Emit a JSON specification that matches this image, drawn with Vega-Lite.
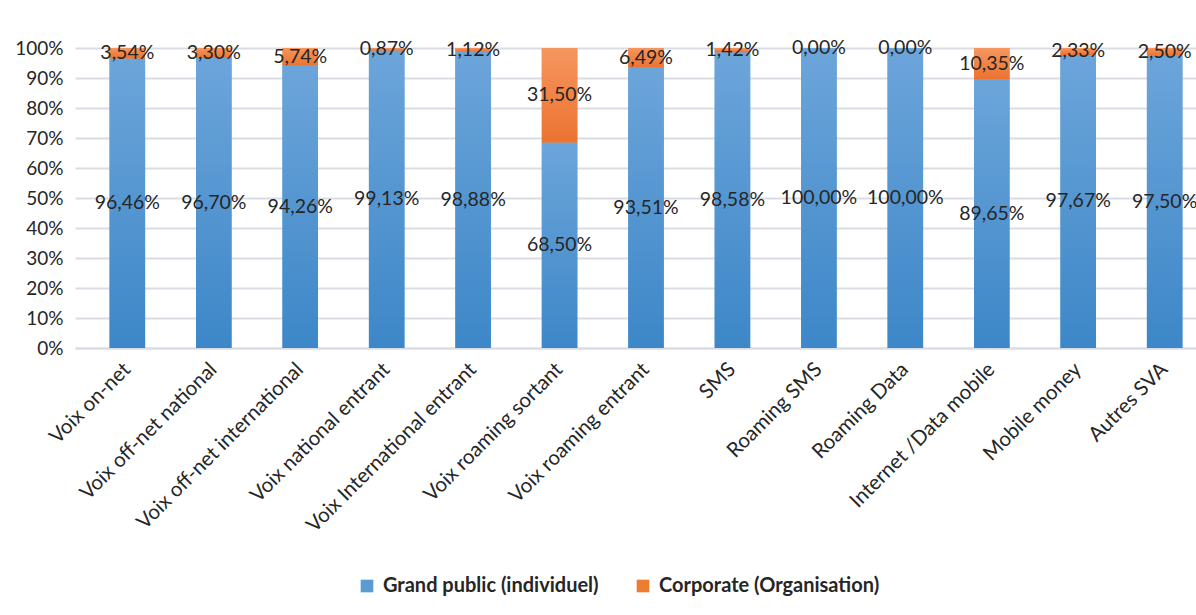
{
  "$schema": "https://vega.github.io/schema/vega-lite/v6.json",
  "autosize": {"type": "none"},
  "width": 1121,
  "height": 300,
  "padding": {"left": 75, "top": 48, "right": 0, "bottom": 267},
  "background": "white",
  "config": {
    "locale": {"number": {"decimal": ",", "thousands": " ", "grouping": [3], "currency": ["", " €"]}},
    "font": "Lato",
    "view": {"stroke": null},
    "axisY": {"values": [0, 0.1, 0.2, 0.3, 0.4, 0.5, 0.6, 0.7, 0.8, 0.9, 1], "format": ".0%", "title": null,
      "domain": false, "ticks": false, "labelFontSize": 19, "labelColor": "#262626", "labelPadding": 12,
      "gridColor": "#d9dde3", "gridWidth": 2, "labelOverlap": false}
  },
  "data": {"values": [
    {"category": "Voix on-net", "series": "Grand public (individuel)", "value": 0.9646},
    {"category": "Voix on-net", "series": "Corporate (Organisation)", "value": 0.0354},
    {"category": "Voix off-net national", "series": "Grand public (individuel)", "value": 0.9670},
    {"category": "Voix off-net national", "series": "Corporate (Organisation)", "value": 0.0330},
    {"category": "Voix off-net international", "series": "Grand public (individuel)", "value": 0.9426},
    {"category": "Voix off-net international", "series": "Corporate (Organisation)", "value": 0.0574},
    {"category": "Voix  national entrant", "series": "Grand public (individuel)", "value": 0.9913},
    {"category": "Voix  national entrant", "series": "Corporate (Organisation)", "value": 0.0087},
    {"category": "Voix International entrant", "series": "Grand public (individuel)", "value": 0.9888},
    {"category": "Voix International entrant", "series": "Corporate (Organisation)", "value": 0.0112},
    {"category": "Voix roaming sortant", "series": "Grand public (individuel)", "value": 0.6850},
    {"category": "Voix roaming sortant", "series": "Corporate (Organisation)", "value": 0.3150},
    {"category": "Voix roaming entrant", "series": "Grand public (individuel)", "value": 0.9351},
    {"category": "Voix roaming entrant", "series": "Corporate (Organisation)", "value": 0.0649},
    {"category": "SMS", "series": "Grand public (individuel)", "value": 0.9858},
    {"category": "SMS", "series": "Corporate (Organisation)", "value": 0.0142},
    {"category": "Roaming SMS", "series": "Grand public (individuel)", "value": 1.0},
    {"category": "Roaming SMS", "series": "Corporate (Organisation)", "value": 0.0},
    {"category": "Roaming Data", "series": "Grand public (individuel)", "value": 1.0},
    {"category": "Roaming Data", "series": "Corporate (Organisation)", "value": 0.0},
    {"category": "Internet /Data mobile", "series": "Grand public (individuel)", "value": 0.8965},
    {"category": "Internet /Data mobile", "series": "Corporate (Organisation)", "value": 0.1035},
    {"category": "Mobile money", "series": "Grand public (individuel)", "value": 0.9767},
    {"category": "Mobile money", "series": "Corporate (Organisation)", "value": 0.0233},
    {"category": "Autres SVA", "series": "Grand public (individuel)", "value": 0.9750},
    {"category": "Autres SVA", "series": "Corporate (Organisation)", "value": 0.0250}
  ]},
  "transform": [
    {"stack": "value", "groupby": ["category"], "sort": [{"field": "series", "order": "descending"}], "as": ["v0", "v1"]},
    {"calculate": "(datum.v0 + datum.v1) / 2", "as": "mid"}
  ],
  "encoding": {
    "x": {
      "field": "category", "type": "nominal", "sort": null, "title": null,
      "scale": {"range": [0, 1142], "paddingInner": 0.589, "paddingOuter": 0.4},
      "axis": {
        "labelAngle": -45, "labelAlign": "right", "labelBaseline": "middle",
        "labelFontSize": 20.5, "labelColor": "#262626", "labelPadding": 18,
        "ticks": false, "domainColor": "#d9dde3", "domainWidth": 2,
        "labelOverlap": false, "labelLimit": 400
      }
    },
    "y": {"field": "v0", "type": "quantitative", "scale": {"domain": [0, 1], "nice": false}},
    "y2": {"field": "v1"}
  },
  "layer": [
    {
      "mark": {"type": "bar"},
      "encoding": {
        "color": {"field": "series", "type": "nominal",
          "scale": {"domain": ["Grand public (individuel)", "Corporate (Organisation)"], "range": ["#5b9bd5", "#ed7d31"]},
          "legend": {"orient": "none", "legendX": 282, "legendY": 528, "direction": "horizontal", "title": null,
            "symbolType": "square", "symbolSize": 160, "symbolStrokeWidth": 0, "labelFontSize": 20, "labelFontWeight": "bold",
            "labelColor": "#262626", "columnPadding": 34, "labelOffset": 6, "labelLimit": 400}}
      }
    },
    {
      "transform": [{"filter": "datum.series === 'Grand public (individuel)'"}],
      "mark": {"type": "bar", "fill": {"gradient": "linear", "x1": 0, "y1": 0, "x2": 0, "y2": 1,
        "stops": [{"offset": 0, "color": "#6ca5da"}, {"offset": 1, "color": "#3d87c8"}]}}
    },
    {
      "transform": [{"filter": "datum.series === 'Corporate (Organisation)' && datum.value > 0"}],
      "mark": {"type": "bar", "fill": {"gradient": "linear", "x1": 0, "y1": 0, "x2": 0, "y2": 1,
        "stops": [{"offset": 0, "color": "#f5965f"}, {"offset": 1, "color": "#ec7330"}]}}
    },
    {
      "mark": {"type": "text", "fontSize": 19.5, "color": "#262626", "baseline": "middle"},
      "encoding": {
        "y": {"field": "mid", "type": "quantitative"},
        "y2": null,
        "text": {"field": "value", "type": "quantitative", "format": ".2%"}
      }
    }
  ]
}
